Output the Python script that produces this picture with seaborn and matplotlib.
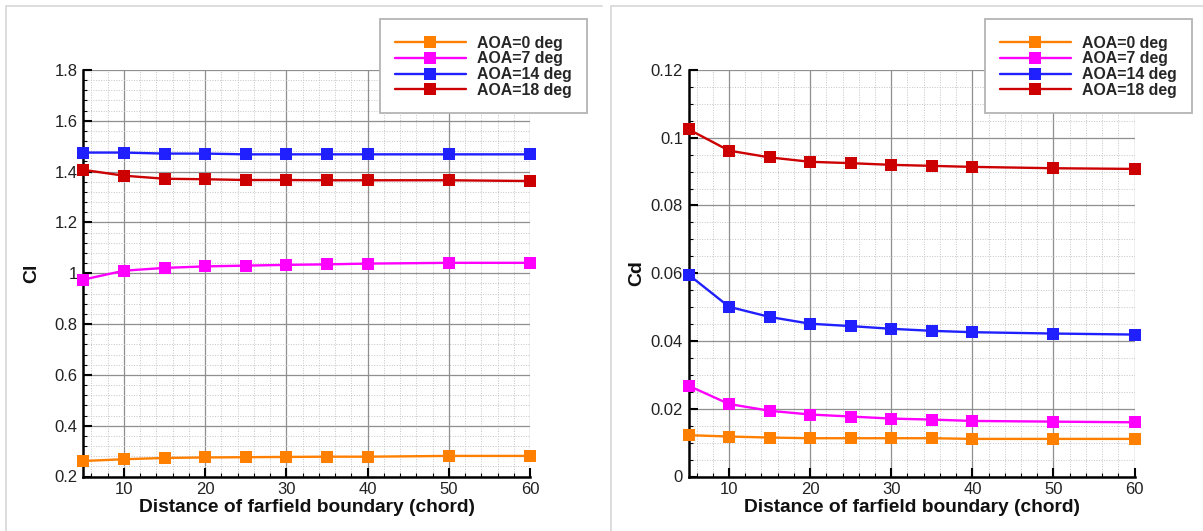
import matplotlib
matplotlib.use("Agg")
import matplotlib.pyplot as plt
from matplotlib.ticker import MultipleLocator, FuncFormatter
from matplotlib.lines import Line2D
import seaborn as sns
import pandas as pd

# Farfield boundary distance (in chords)
distance = [5, 10, 15, 20, 25, 30, 35, 40, 50, 60]

aoa_labels = ["AOA=0 deg", "AOA=7 deg", "AOA=14 deg", "AOA=18 deg"]
colors = ["#ff8000", "#ff00ff", "#2020ff", "#cc0000"]

# Lift coefficient per angle of attack
cl_aoa0 = [0.261, 0.268, 0.273, 0.275, 0.276, 0.277, 0.278, 0.278, 0.281, 0.281]
cl_aoa7 = [0.975, 1.010, 1.021, 1.027, 1.030, 1.033, 1.035, 1.038, 1.041, 1.041]
cl_aoa14 = [1.475, 1.475, 1.471, 1.471, 1.468, 1.468, 1.468, 1.468, 1.468, 1.468]
cl_aoa18 = [1.407, 1.384, 1.372, 1.370, 1.367, 1.367, 1.366, 1.366, 1.366, 1.363]

# Drag coefficient per angle of attack
cd_aoa0 = [0.0122, 0.0118, 0.0115, 0.0113, 0.0113, 0.0113, 0.0113, 0.0111, 0.0111, 0.0111]
cd_aoa7 = [0.0268, 0.0214, 0.0194, 0.0183, 0.0177, 0.0171, 0.0168, 0.0164, 0.0162, 0.0160]
cd_aoa14 = [0.0596, 0.0501, 0.0471, 0.0451, 0.0444, 0.0436, 0.0430, 0.0426, 0.0422, 0.0419]
cd_aoa18 = [0.1025, 0.0962, 0.0942, 0.0929, 0.0925, 0.0920, 0.0917, 0.0914, 0.0910, 0.0908]

sns.set_theme(style="white")
plt.rcParams["font.family"] = ["Liberation Sans", "DejaVu Sans"]

W, H = 1203, 531
fig = plt.figure(figsize=(W / 100, H / 100), dpi=100)
fig.patch.set_facecolor("white")


def px_box(x0, x1, y_top, y_bot):
    return [x0 / W, 1 - y_bot / H, (x1 - x0) / W, (y_bot - y_top) / H]


# light frames around each panel
frame_kw = dict(color="#dadada", lw=1.3, transform=fig.transFigure)
for left, right in [(6, 602), (611, 1203)]:
    fig.add_artist(Line2D([left / W, left / W], [0, 1 - 6 / H], **frame_kw))
    fig.add_artist(Line2D([left / W, right / W], [1 - 6 / H, 1 - 6 / H], **frame_kw))


def fmt_g(v, pos):
    return f"{v:.4f}".rstrip("0").rstrip(".")


def draw_panel(box, series, ylabel, ylim, ymajor, yminor, legend_x):
    ax = fig.add_axes(box)
    ax.set_facecolor("white")
    ax.set_axisbelow(True)
    for label, color, vals in zip(aoa_labels, colors, series):
        df = pd.DataFrame({"distance": distance, "value": vals})
        sns.lineplot(data=df, x="distance", y="value", ax=ax, color=color,
                     marker="s", markersize=8.6, markeredgecolor=color,
                     markeredgewidth=0, linewidth=1.7, label=label,
                     clip_on=False, zorder=5)
    ax.set_xlim(5, 60)
    ax.set_ylim(*ylim)
    ax.xaxis.set_major_locator(MultipleLocator(10))
    ax.xaxis.set_minor_locator(MultipleLocator(2))
    ax.yaxis.set_major_locator(MultipleLocator(ymajor))
    ax.yaxis.set_minor_locator(MultipleLocator(yminor))
    ax.yaxis.set_major_formatter(FuncFormatter(fmt_g))
    ax.xaxis.set_major_formatter(FuncFormatter(fmt_g))

    ax.grid(True, which="major", color="#8f8f8f", lw=0.9, ls="-")
    ax.grid(True, which="minor", color="#c4c4c4", lw=0.7, ls=(0, (1, 1.6)))

    for side in ["top", "right"]:
        ax.spines[side].set_visible(False)
    for side in ["left", "bottom"]:
        ax.spines[side].set_color("black")
        ax.spines[side].set_linewidth(1.8)
        ax.spines[side].set_zorder(4)

    ax.tick_params(which="major", direction="in", length=6.5, width=1.5,
                   color="black", labelsize=12, labelcolor="#222222", pad=4,
                   left=True, bottom=True, top=False, right=False)
    ax.tick_params(which="minor", direction="in", length=3, width=0.8,
                   color="black", left=True, bottom=True, top=False, right=False)

    ax.set_xlabel("Distance of farfield boundary (chord)", fontsize=13.8,
                  fontweight="bold", color="#111111", labelpad=1.5)
    ax.set_ylabel(ylabel, fontsize=14, fontweight="bold", color="#111111")
    ax.yaxis.set_label_coords(-0.097, 0.5)

    handles, labels = ax.get_legend_handles_labels()
    ax.legend(handles, labels, loc="upper left",
              bbox_to_anchor=(legend_x / W, 1 - 19 / H),
              bbox_transform=fig.transFigure, borderaxespad=0,
              prop={"size": 11.4, "weight": "bold"}, frameon=True,
              fancybox=False, edgecolor="#b4b4b4", facecolor="white",
              framealpha=1, borderpad=0.95, handlelength=4.45,
              handletextpad=0.75, labelspacing=0.04, handleheight=0.6,
              title=" ", title_fontsize=1.5)
    leg = ax.get_legend()
    leg.get_frame().set_linewidth(1.3)
    leg.set_zorder(10)
    return ax


draw_panel(px_box(83.3, 530, 70, 476.5),
           [cl_aoa0, cl_aoa7, cl_aoa14, cl_aoa18],
           "Cl", (0.2, 1.8), 0.2, 0.04, 380)
draw_panel(px_box(688.5, 1134.6, 70, 476.5),
           [cd_aoa0, cd_aoa7, cd_aoa14, cd_aoa18],
           "Cd", (0.0, 0.12), 0.02, 0.005, 985)

fig.savefig("out.png", dpi=100, facecolor="white")
